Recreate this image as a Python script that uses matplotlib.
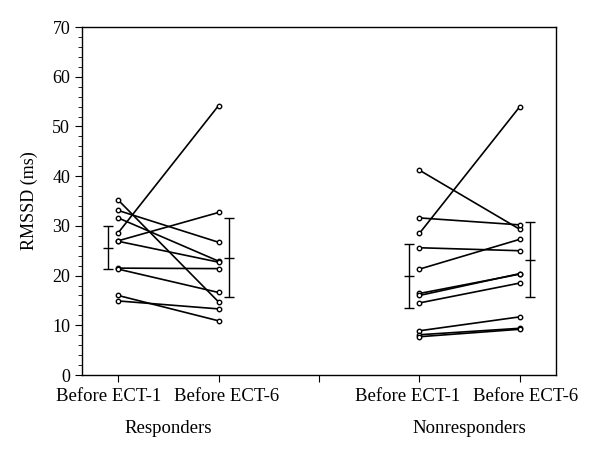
import matplotlib
matplotlib.use("Agg")
import matplotlib.pyplot as plt
from matplotlib.ticker import MultipleLocator

plt.rcParams["font.family"] = ["Liberation Serif", "DejaVu Serif"]

# RMSSD (ms) per patient: before ECT-1 -> before ECT-6
resp_before1 = [28.6, 35.2, 33.1, 31.6, 27.0, 26.9, 21.5, 21.3, 16.0, 14.9]
resp_before6 = [54.2, 14.7, 26.7, 22.9, 32.7, 22.7, 21.4, 16.6, 10.9, 13.3]
nonresp_before1 = [28.5, 41.2, 31.6, 25.6, 21.3, 16.4, 16.0, 14.5, 8.9, 8.1, 7.7]
nonresp_before6 = [54.0, 29.3, 30.2, 25.0, 27.3, 20.3, 20.4, 18.5, 11.7, 9.4, 9.2]

# mean and SD bars (mean, low, high)
resp_stats = [(25.6, 21.3, 30.0), (23.5, 15.6, 31.5)]
nonresp_stats = [(20.0, 13.4, 26.4), (23.1, 15.6, 30.8)]

tick_labels = ["Before ECT-1", "Before ECT-6", "Before ECT-1", "Before ECT-6"]
groups = ["Responders", "Nonresponders"]

fig = plt.figure(figsize=(6, 4.58), dpi=100)
ax = fig.add_axes([0.1367, 0.1812, 0.79, 0.7598])

for (x1, x2), b1, b6, stats in [((1, 2), resp_before1, resp_before6, resp_stats),
                                ((4, 5), nonresp_before1, nonresp_before6, nonresp_stats)]:
    for a, b in zip(b1, b6):
        ax.plot([x1, x2], [a, b], color="black", lw=1.2, marker="o", ms=3.2,
                mfc="white", mec="black", mew=1.0, zorder=3)
    for xe, (m, lo, hi) in zip([x1 - 0.1, x2 + 0.1], stats):
        ax.errorbar([xe], [m], yerr=[[m - lo], [hi - m]], fmt="_", ms=7,
                    color="black", ecolor="black", elinewidth=1.0, capsize=3.5,
                    capthick=1.0, mew=1.0)

ax.set_xlim(0.64, 5.36)
ax.set_ylim(0, 70)
ax.set_xticks([1, 2, 3, 4, 5])
ax.set_xticklabels([])
ax.yaxis.set_major_locator(MultipleLocator(10))
ax.yaxis.set_minor_locator(MultipleLocator(2))
ax.tick_params(axis="y", which="major", length=5, labelsize=13, direction="out")
ax.tick_params(axis="y", which="minor", length=3, direction="out")
ax.tick_params(axis="x", length=5, direction="out")
ax.set_ylabel("RMSSD (ms)", fontsize=13, labelpad=10)

# tick labels sit slightly spread apart from their ticks
for xc, lab in zip([0.9, 2.08, 3.88, 5.06], tick_labels):
    ax.text(xc, -0.063, lab, transform=ax.get_xaxis_transform(), ha="center",
            va="center", fontsize=13.5)

for xc, g in zip([1.5, 4.5], groups):
    ax.text(xc, -0.155, g, transform=ax.get_xaxis_transform(), ha="center",
            va="center", fontsize=13.5)

for s in ax.spines.values():
    s.set_linewidth(1.0)

fig.savefig("out.png", dpi=100)
